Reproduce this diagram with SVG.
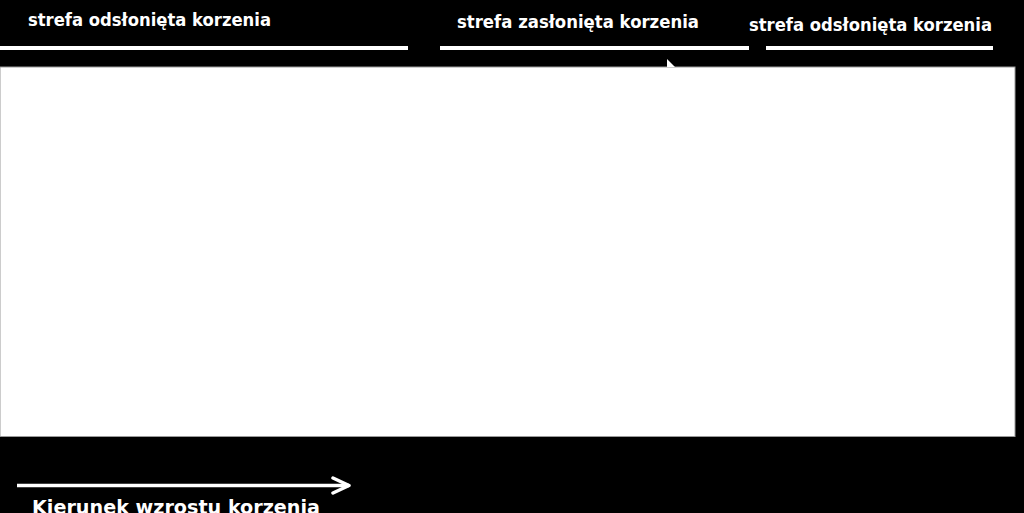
<svg xmlns="http://www.w3.org/2000/svg" width="1024" height="513" viewBox="0 0 1024 513">
<defs>
<style>
.lbl{font-family:"DejaVu Sans","Liberation Sans",sans-serif;font-weight:bold;fill:#ffffff;}
.bar{stroke:#ffffff;stroke-width:4;}
</style>
<marker id="arr" markerWidth="20" markerHeight="20" refX="18" refY="10" orient="auto" markerUnits="userSpaceOnUse">
<path d="M2,2.5 L18,10 L2,17.5" fill="none" stroke="#ffffff" stroke-width="3.5" stroke-linecap="round" stroke-linejoin="round"/>
</marker>
</defs>
<rect x="0" y="0" width="1024" height="513" fill="#000000"/>
<g id="panel">
<rect x="0" y="67" width="1015" height="369.5" fill="#ffffff" stroke="#9a9a9a" stroke-width="1"/>
<polygon points="667,59 667,67 675,67" fill="#ffffff"/>
</g>
<g id="zone1">
<text class="lbl" x="28" y="25.5" font-size="17.5" textLength="243" lengthAdjust="spacingAndGlyphs">strefa odsłonięta korzenia</text>
</g>
<g id="zone2">
<text class="lbl" x="457" y="28" font-size="17.5" textLength="242" lengthAdjust="spacingAndGlyphs">strefa zasłonięta korzenia</text>
</g>
<g id="zone3">
<text class="lbl" x="749" y="31" font-size="17.5" textLength="243" lengthAdjust="spacingAndGlyphs">strefa odsłonięta korzenia</text>
</g>
<g id="direction">
<text class="lbl" x="32" y="514" font-size="20" textLength="288" lengthAdjust="spacingAndGlyphs">Kierunek wzrostu korzenia</text>
</g>
<g id="connectors">
<line class="bar" x1="0" y1="48" x2="408" y2="48"/>
<line class="bar" x1="440" y1="48" x2="749" y2="48"/>
<line class="bar" x1="766" y1="48" x2="993" y2="48"/>
<line x1="17" y1="485.5" x2="349" y2="485.5" stroke="#ffffff" stroke-width="3.5" marker-end="url(#arr)"/>
</g>
</svg>
